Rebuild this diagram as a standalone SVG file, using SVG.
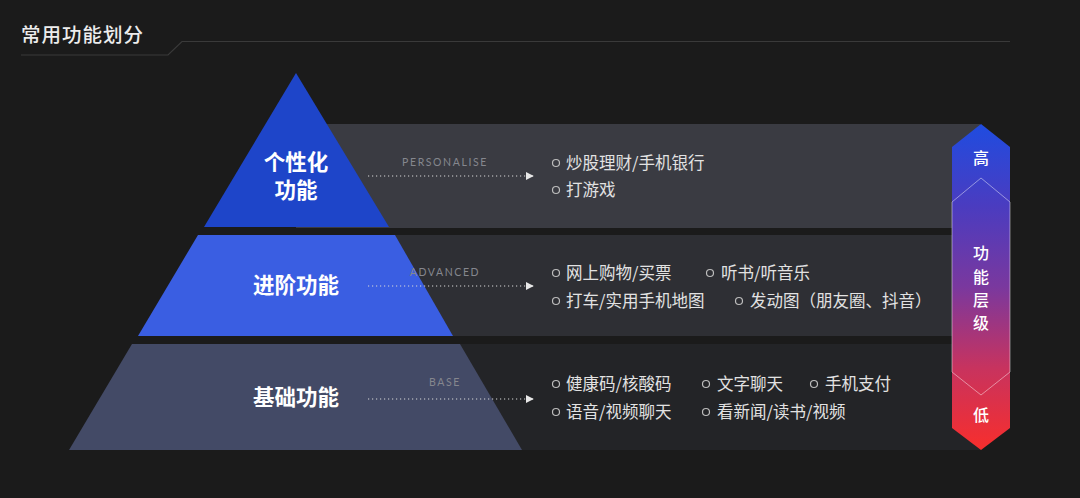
<svg xmlns="http://www.w3.org/2000/svg" width="1080" height="498" viewBox="0 0 1080 498">
  <defs>
    <linearGradient id="lvl" x1="0" y1="124" x2="0" y2="450" gradientUnits="userSpaceOnUse">
      <stop offset="0" stop-color="#1f4ce0"/>
      <stop offset="0.25" stop-color="#4a3cc0"/>
      <stop offset="0.5" stop-color="#7a389e"/>
      <stop offset="0.75" stop-color="#c8335e"/>
      <stop offset="1" stop-color="#f82e2c"/>
    </linearGradient>
    <marker id="arr" viewBox="0 0 10 10" refX="9" refY="5" markerWidth="8" markerHeight="8" markerUnits="userSpaceOnUse" orient="auto">
      <path d="M0,0 L10,5 L0,10 Z" fill="#e8e8e8"/>
    </marker>
    <style>
      .title{font-family:"Noto Sans CJK SC","Noto Sans",sans-serif;font-size:19.5px;font-weight:500;fill:#ececec;letter-spacing:1px}
      .lvl{font-family:"Noto Sans CJK SC","Noto Sans",sans-serif;font-size:21.5px;font-weight:700;fill:#ffffff;text-anchor:middle}
      .en{font-family:"Lato","Noto Sans",sans-serif;font-size:10.5px;fill:#85878e;letter-spacing:1.6px;text-anchor:middle}
      .item{font-family:"Noto Sans CJK SC","Noto Sans",sans-serif;font-size:16.5px;fill:#e2e2e2}
      .dot{fill:none;stroke:#bdbdbd;stroke-width:1.2}
      .conn{fill:none;stroke:#d8d8d8;stroke-width:1.2;stroke-dasharray:1.2 2.8}
      .side{font-family:"Noto Sans CJK SC","Noto Sans",sans-serif;font-size:16px;font-weight:500;fill:#ffffff;text-anchor:middle}
    </style>
  </defs>
  <rect width="1080" height="498" fill="#1b1b1b"/>

  <g id="header">
    <text class="title" x="21" y="42">常用功能划分</text>
    <path d="M21,55 L168,55 L182,41.5 L1010,41.5" fill="none" stroke="#3a3a3a" stroke-width="1.2"/>
  </g>

  <g id="bands">
    <rect x="296" y="124" width="684" height="104" fill="#3a3b42"/>
    <rect x="296" y="235" width="684" height="101" fill="#2e2f34"/>
    <rect x="296" y="344" width="684" height="106" fill="#232427"/>
  </g>

  <g id="level-personal">
    <polygon points="296,73 389,227 204,227" fill="#1e45c9"/>
    <text class="lvl" x="296" y="170">个性化</text>
    <text class="lvl" x="296" y="198">功能</text>
    <text class="en" x="445" y="166">PERSONALISE</text>
    <circle class="dot" cx="556" cy="163" r="3.5"/>
    <text class="item" x="566" y="169">炒股理财/手机银行</text>
    <circle class="dot" cx="556" cy="190" r="3.5"/>
    <text class="item" x="566" y="196">打游戏</text>
  </g>

  <g id="level-advanced">
    <polygon points="198,235 395,235 453,336 138,336" fill="#3a5ee2"/>
    <text class="lvl" x="296" y="293">进阶功能</text>
    <text class="en" x="445" y="276">ADVANCED</text>
    <circle class="dot" cx="556" cy="273" r="3.5"/>
    <text class="item" x="566" y="279">网上购物/买票</text>
    <circle class="dot" cx="710" cy="273" r="3.5"/>
    <text class="item" x="721" y="279">听书/听音乐</text>
    <circle class="dot" cx="556" cy="301" r="3.5"/>
    <text class="item" x="566" y="307">打车/实用手机地图</text>
    <circle class="dot" cx="739" cy="301" r="3.5"/>
    <text class="item" x="750" y="307">发动图（朋友圈、抖音）</text>
  </g>

  <g id="level-base">
    <polygon points="132,344 460,344 522,450 69,450" fill="#434a66"/>
    <text class="lvl" x="296" y="405">基础功能</text>
    <text class="en" x="445" y="386">BASE</text>
    <circle class="dot" cx="556" cy="384" r="3.5"/>
    <text class="item" x="566" y="390">健康码/核酸码</text>
    <circle class="dot" cx="706" cy="384" r="3.5"/>
    <text class="item" x="717" y="390">文字聊天</text>
    <circle class="dot" cx="814" cy="384" r="3.5"/>
    <text class="item" x="825" y="390">手机支付</text>
    <circle class="dot" cx="556" cy="412" r="3.5"/>
    <text class="item" x="566" y="418">语音/视频聊天</text>
    <circle class="dot" cx="706" cy="412" r="3.5"/>
    <text class="item" x="717" y="418">看新闻/读书/视频</text>
  </g>

  <g id="connectors">
    <line class="conn" x1="368" y1="176" x2="533" y2="176" marker-end="url(#arr)"/>
    <line class="conn" x1="368" y1="286" x2="533" y2="286" marker-end="url(#arr)"/>
    <line class="conn" x1="368" y1="399" x2="533" y2="399" marker-end="url(#arr)"/>
  </g>

  <g id="level-scale">
    <polygon points="981,124 1010,147 1010,428 981,450 952,428 952,147" fill="url(#lvl)"/>
    <path d="M952,202 L981,178 L1010,202 L1010,372 L981,395 L952,372 Z" fill="none" stroke="#ffffff" stroke-opacity="0.45" stroke-width="1"/>
    <text class="side" x="981" y="164">高</text>
    <text class="side" x="981" y="259">功</text>
    <text class="side" x="981" y="283">能</text>
    <text class="side" x="981" y="306">层</text>
    <text class="side" x="981" y="329">级</text>
    <text class="side" x="981" y="421">低</text>
  </g>
</svg>
